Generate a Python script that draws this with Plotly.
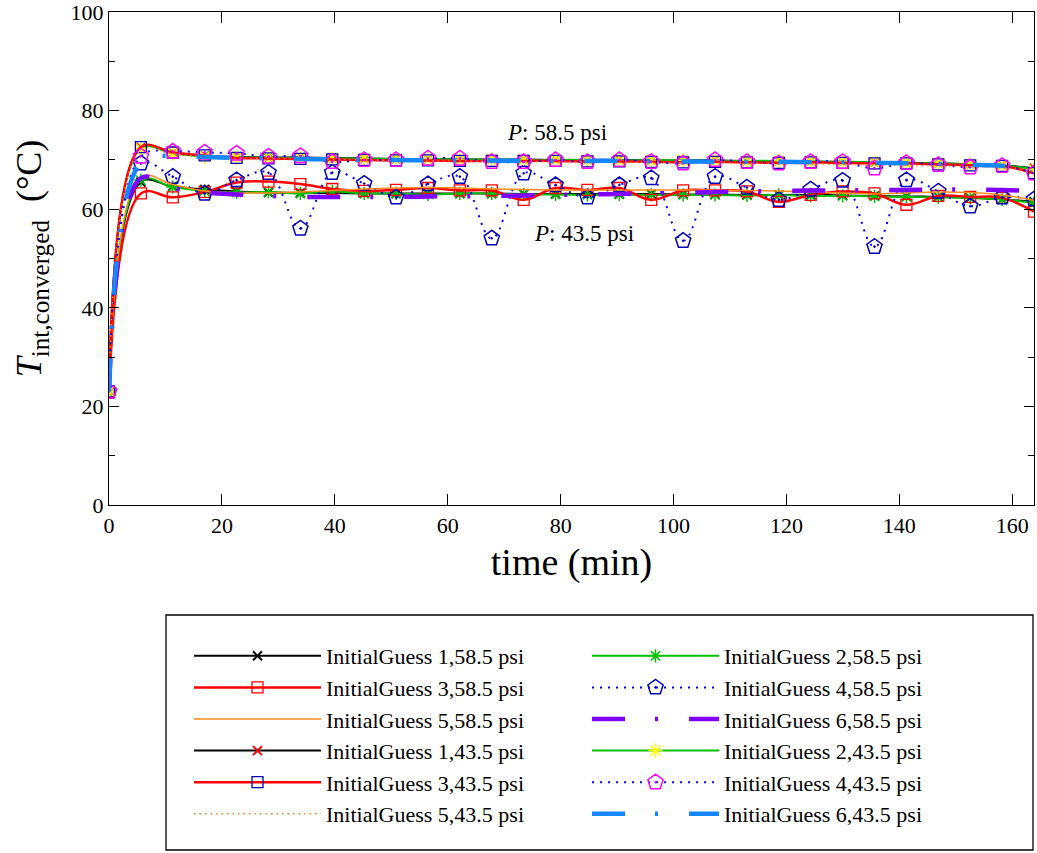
import plotly.graph_objects as go

# ---------------- data ----------------
time_min = [0, 5.65, 11.3, 16.95, 22.6, 28.25, 33.9, 39.55, 45.2, 50.85,
            56.5, 62.15, 67.8, 73.45, 79.1, 84.75, 90.4, 96.05, 101.7, 107.35,
            113.0, 118.65, 124.3, 129.95, 135.6, 141.25, 146.9, 152.55, 158.2, 163.85]

ig1_585 = [23, 65.5, 64.6, 64.0, 63.6, 63.4, 63.3, 63.3, 63.2, 63.2, 63.2, 63.2, 63.2, 63.1, 63.1,
           63.1, 63.1, 63.1, 63.0, 63.0, 62.9, 62.9, 62.9, 62.8, 62.7, 62.6, 62.5, 62.3, 62.0, 61.5]
ig2_585 = [23, 65.9, 64.5, 63.7, 63.4, 63.5, 63.2, 63.6, 63.2, 63.2, 63.0, 63.2, 63.2, 63.0, 63.0,
           62.9, 63.0, 62.9, 62.9, 62.9, 62.8, 62.9, 62.7, 62.7, 62.6, 62.5, 62.4, 62.3, 62.0, 61.3]
ig3_585 = [23, 63.2, 62.4, 63.5, 65.4, 65.6, 65.1, 64.1, 63.7, 63.9, 64.3, 63.8, 63.8, 61.9, 64.3,
           63.9, 64.3, 61.9, 63.8, 63.8, 63.6, 61.5, 62.9, 63.6, 63.2, 60.9, 62.7, 62.5, 62.3, 59.5]
ig4_585 = [23, 69.3, 66.6, 63.2, 65.9, 67.4, 56.1, 67.4, 65.2, 62.4, 65.1, 66.6, 54.1, 67.3, 64.9,
           62.4, 64.9, 66.3, 53.6, 66.6, 64.4, 61.9, 64.0, 65.8, 52.4, 65.9, 63.6, 60.6, 62.4, 62.0]
ig5_585 = [23, 66.5, 65.0, 63.7, 63.3, 63.3, 63.5, 63.8, 64.1, 64.3, 64.4, 64.3, 64.1, 64.0, 63.9,
           63.9, 63.9, 63.9, 63.9, 63.9, 63.8, 63.7, 63.5, 63.3, 63.1, 63.3, 63.5, 63.4, 62.9, 61.8]
ig6_585 = [23, 66.3, 64.3, 63.4, 63.0, 62.7, 62.5, 62.5, 62.5, 62.5, 62.6, 62.6, 62.7, 62.8, 62.9,
           63.0, 63.1, 63.2, 63.3, 63.5, 63.6, 63.7, 63.8, 63.8, 63.9, 63.9, 64.0, 64.0, 63.9, 63.7]

ig1_435 = [23, 72.5, 71.4, 70.8, 70.6, 70.5, 70.5, 70.4, 70.3, 70.2, 70.2, 70.1, 70.1, 70.1, 70.0,
           70.0, 70.0, 69.9, 69.9, 69.9, 69.8, 69.8, 69.7, 69.6, 69.5, 69.4, 69.3, 69.1, 68.9, 68.3]
ig2_435 = [23, 72.3, 71.3, 70.7, 70.5, 70.5, 70.4, 70.3, 70.3, 70.2, 70.2, 70.1, 70.1, 70.0, 70.0,
           70.0, 69.9, 69.9, 69.9, 69.8, 69.8, 69.8, 69.7, 69.6, 69.5, 69.4, 69.3, 69.1, 68.9, 68.1]
ig3_435 = [23, 72.6, 71.5, 70.9, 70.4, 70.3, 70.2, 70.1, 70.0, 69.9, 69.9, 69.8, 69.8, 69.8, 69.8,
           69.7, 69.7, 69.6, 69.5, 69.6, 69.5, 69.4, 69.5, 69.4, 69.3, 69.3, 69.1, 68.9, 68.8, 67.3]
ig4_435 = [23, 70.7, 71.7, 71.5, 71.3, 70.7, 70.8, 69.6, 70.0, 70.0, 70.3, 70.3, 69.6, 69.6, 70.0,
           69.6, 70.0, 69.6, 69.3, 70.0, 69.6, 69.3, 69.6, 69.6, 68.3, 69.4, 69.0, 68.5, 68.8, 67.3]
ig5_435 = [23, 72.0, 71.2, 70.6, 70.4, 70.3, 70.2, 70.1, 70.0, 69.9, 69.8, 69.8, 69.7, 69.7, 69.6,
           69.6, 69.5, 69.5, 69.4, 69.4, 69.3, 69.3, 69.2, 69.1, 69.0, 68.9, 68.8, 68.6, 68.4, 67.6]
ig6_435 = [23, 69.5, 70.8, 70.6, 70.4, 70.3, 70.2, 70.1, 70.0, 70.0, 69.9, 69.9, 69.9, 69.8, 69.8,
           69.8, 69.8, 69.7, 69.7, 69.6, 69.6, 69.6, 69.5, 69.5, 69.4, 69.3, 69.2, 69.0, 68.8, 68.2]

x_ticks = [0, 20, 40, 60, 80, 100, 120, 140, 160]
y_ticks = [0, 20, 40, 60, 80, 100]

# ---------------- styles ----------------
FONT = "Liberation Serif"
GREEN = "#00c000"
RED = "#ff0000"
BLUE = "#0000ff"
NAVY = "#0000b4"
ORANGE = "#ff8a1e"
PURPLE = "#8000ff"
LBLUE = "#1486ff"
MAGENTA = "#ff00ff"
YELLOW = "#ffff00"
DASHDOT = "33px,30px,3px,31px"

series = [
    ("InitialGuess 1,58.5 psi", ig1_585, dict(color="black", width=2),
     dict(symbol="x-thin-open", size=9, color="black", line=dict(color="black", width=2))),
    ("InitialGuess 2,58.5 psi", ig2_585, dict(color=GREEN, width=2),
     dict(symbol="asterisk-open", size=11, color=GREEN, line=dict(color=GREEN, width=1.5))),
    ("InitialGuess 3,58.5 psi", ig3_585, dict(color=RED, width=2.5),
     dict(symbol="square-open", size=11, color=RED, line=dict(color=RED, width=1.3))),
    ("InitialGuess 4,58.5 psi", ig4_585, dict(color=BLUE, width=2, dash="2px,6px"),
     dict(symbol="pentagon-open-dot", size=16, color=NAVY, line=dict(color=NAVY, width=1.5))),
    ("InitialGuess 5,58.5 psi", ig5_585, dict(color=ORANGE, width=1.5), None),
    ("InitialGuess 6,58.5 psi", ig6_585, dict(color=PURPLE, width=4.5, dash=DASHDOT), None),
    ("InitialGuess 1,43.5 psi", ig1_435, dict(color="black", width=2),
     dict(symbol="x-thin-open", size=9, color=RED, line=dict(color=RED, width=2))),
    ("InitialGuess 2,43.5 psi", ig2_435, dict(color=GREEN, width=2),
     dict(symbol="asterisk-open", size=12, color=YELLOW, line=dict(color=YELLOW, width=1.5))),
    ("InitialGuess 3,43.5 psi", ig3_435, dict(color=RED, width=2.5),
     dict(symbol="square-open", size=11, color=NAVY, line=dict(color=NAVY, width=1.3))),
    ("InitialGuess 4,43.5 psi", ig4_435, dict(color=BLUE, width=2, dash="2px,6px"),
     dict(symbol="pentagon-open-dot", size=16, color=MAGENTA, line=dict(color=MAGENTA, width=1.5))),
    ("InitialGuess 5,43.5 psi", ig5_435, dict(color=ORANGE, width=1.5, dash="1.5px,4px"), None),
    ("InitialGuess 6,43.5 psi", ig6_435, dict(color=LBLUE, width=4.5, dash=DASHDOT), None),
]

fig = go.Figure()
for name, yv, line, marker in series:
    kw = dict(x=time_min, y=yv, name=name,
              line=dict(shape="spline", smoothing=1.1, **line))
    if marker is None:
        kw["mode"] = "lines"
    else:
        kw["mode"] = "lines+markers"
        kw["marker"] = marker
    fig.add_trace(go.Scatter(**kw))

# annotations
fig.add_annotation(x=79.3, y=75.6, text="<i>P</i>: 58.5 psi", showarrow=False,
                   font=dict(family=FONT, size=23, color="black"))
fig.add_annotation(x=84.2, y=55.0, text="<i>P</i>: 43.5 psi", showarrow=False,
                   font=dict(family=FONT, size=23, color="black"))

W, H = 1037, 853
L, R, T, B = 109, 3, 12, 348
pw, ph = W - L - R, H - T - B

def px_x(p):
    return (p - L) / pw

def px_y(p):
    return (H - B - p) / ph

# legend box
fig.add_shape(type="rect", xref="paper", yref="paper",
              x0=px_x(166), x1=px_x(1033), y0=px_y(850), y1=px_y(615),
              line=dict(color="black", width=1.3), fillcolor="rgba(0,0,0,0)")

axis_common = dict(showline=True, linecolor="black", linewidth=1.3, mirror="ticks",
                   ticks="inside", tickcolor="black", tickwidth=1.2,
                   showgrid=False, zeroline=False, ticklabeloverflow="allow",
                   tickfont=dict(family=FONT, size=22, color="black"))

fig.update_xaxes(range=[0, 163.85], tickvals=x_ticks, ticklen=11,
                 title=dict(text="time (min)", font=dict(family=FONT, size=38, color="black"),
                            standoff=11),
                 **axis_common)
fig.update_yaxes(range=[0, 100], tickvals=y_ticks, ticklen=10,
                 minor=dict(ticks="inside", dtick=10, ticklen=6, tickcolor="black", showgrid=False),
                 title=dict(text="<i>T</i><sub>int,converged</sub>  (°C)",
                            font=dict(family=FONT, size=36, color="black"), standoff=17),
                 **axis_common)

fig.update_layout(
    width=W, height=H,
    margin=dict(l=L, r=R, t=T, b=B, autoexpand=False),
    paper_bgcolor="white", plot_bgcolor="white",
    font=dict(family=FONT, color="black"),
    showlegend=True,
    legend=dict(orientation="h", x=px_x(189), y=px_y(635), xanchor="left", yanchor="top",
                entrywidth=256, entrywidthmode="pixels", itemwidth=127,
                font=dict(family=FONT, size=22, color="black"),
                bgcolor="rgba(0,0,0,0)", borderwidth=0, tracegroupgap=0),
)

fig.write_html("out.html")
